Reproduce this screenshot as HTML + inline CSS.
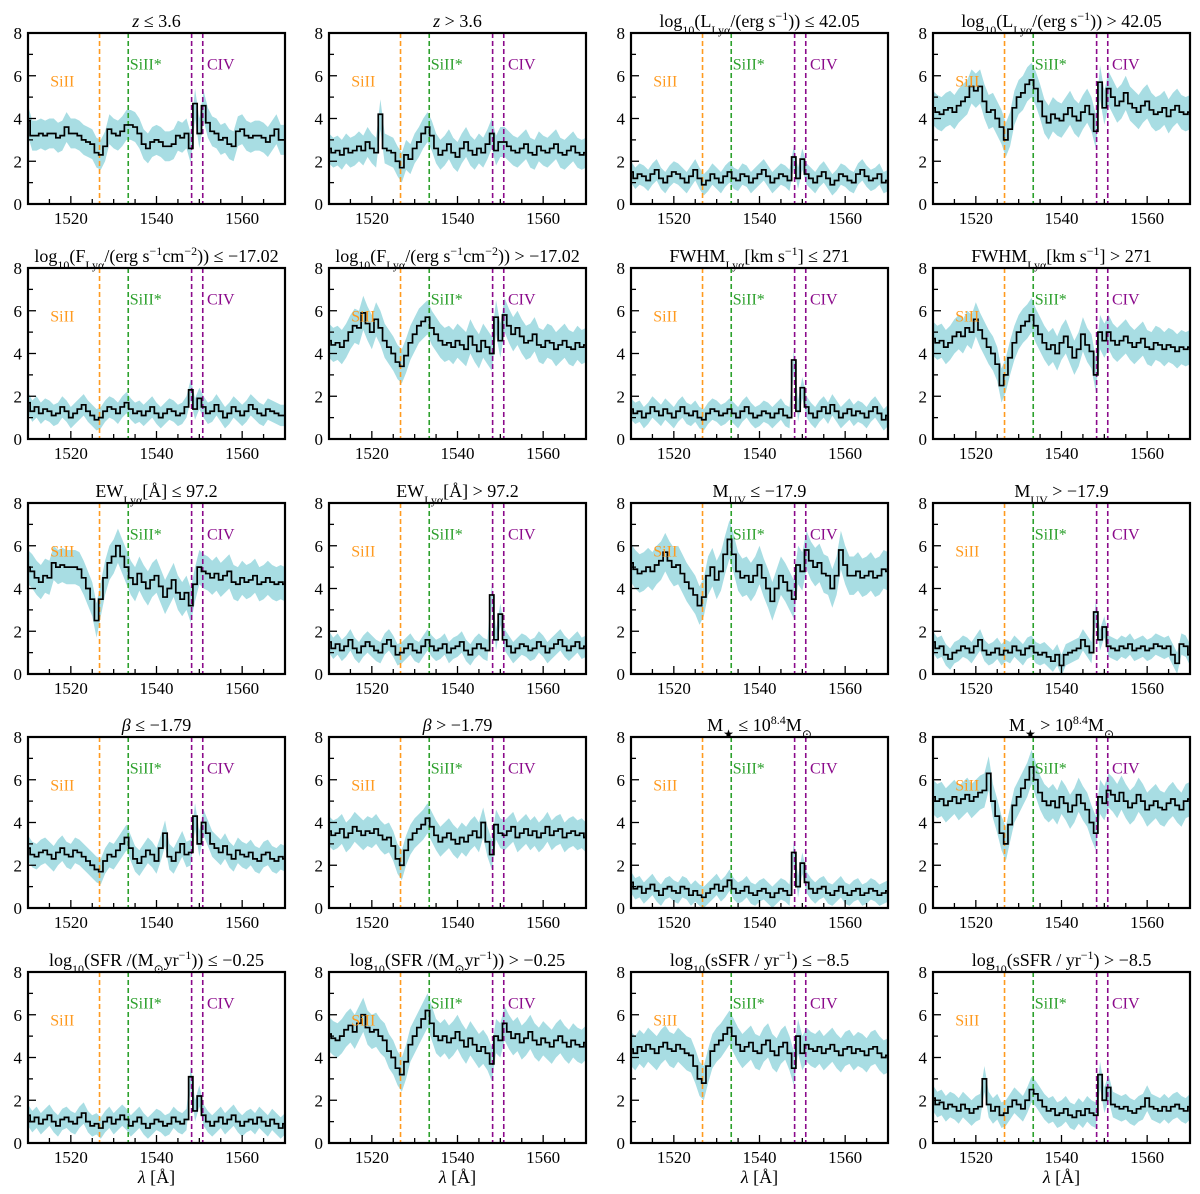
<!DOCTYPE html>
<html><head><meta charset="utf-8">
<style>
html,body{margin:0;padding:0;background:#fff;}
svg{display:block;font-family:"Liberation Serif",serif;}
</style></head>
<body>
<svg id="fig" width="1200" height="1194" viewBox="0 0 1200 1194" xmlns="http://www.w3.org/2000/svg"></svg>
<script>
const xTicks = [1520, 1540, 1560];
const yTicks = [0, 2, 4, 6, 8];
const lineSiII = 1526.7, lineSiIIs = 1533.4, lineCIV1 = 1548.2, lineCIV2 = 1550.8;
const titles = [
 '<tspan font-style="italic">z</tspan> ≤ 3.6',
 '<tspan font-style="italic">z</tspan> &gt; 3.6',
 'log<tspan baseline-shift="sub" font-size="12">10</tspan>(L<tspan baseline-shift="sub" font-size="12">Lyα</tspan>/(erg s<tspan baseline-shift="super" font-size="12">−1</tspan>)) ≤ 42.05',
 'log<tspan baseline-shift="sub" font-size="12">10</tspan>(L<tspan baseline-shift="sub" font-size="12">Lyα</tspan>/(erg s<tspan baseline-shift="super" font-size="12">−1</tspan>)) &gt; 42.05',
 'log<tspan baseline-shift="sub" font-size="12">10</tspan>(F<tspan baseline-shift="sub" font-size="12">Lyα</tspan>/(erg s<tspan baseline-shift="super" font-size="12">−1</tspan>cm<tspan baseline-shift="super" font-size="12">−2</tspan>)) ≤ −17.02',
 'log<tspan baseline-shift="sub" font-size="12">10</tspan>(F<tspan baseline-shift="sub" font-size="12">Lyα</tspan>/(erg s<tspan baseline-shift="super" font-size="12">−1</tspan>cm<tspan baseline-shift="super" font-size="12">−2</tspan>)) &gt; −17.02',
 'FWHM<tspan baseline-shift="sub" font-size="12">Lyα</tspan>[km s<tspan baseline-shift="super" font-size="12">−1</tspan>] ≤ 271',
 'FWHM<tspan baseline-shift="sub" font-size="12">Lyα</tspan>[km s<tspan baseline-shift="super" font-size="12">−1</tspan>] &gt; 271',
 'EW<tspan baseline-shift="sub" font-size="12">Lyα</tspan>[Å] ≤ 97.2',
 'EW<tspan baseline-shift="sub" font-size="12">Lyα</tspan>[Å] &gt; 97.2',
 'M<tspan baseline-shift="sub" font-size="12">UV</tspan> ≤ −17.9',
 'M<tspan baseline-shift="sub" font-size="12">UV</tspan> &gt; −17.9',
 '<tspan font-style="italic">β</tspan> ≤ −1.79',
 '<tspan font-style="italic">β</tspan> &gt; −1.79',
 'M<tspan baseline-shift="sub" font-size="12">★</tspan> ≤ 10<tspan baseline-shift="super" font-size="12">8.4</tspan>M<tspan baseline-shift="sub" font-size="12">⊙</tspan>',
 'M<tspan baseline-shift="sub" font-size="12">★</tspan> &gt; 10<tspan baseline-shift="super" font-size="12">8.4</tspan>M<tspan baseline-shift="sub" font-size="12">⊙</tspan>',
 'log<tspan baseline-shift="sub" font-size="12">10</tspan>(SFR /(M<tspan baseline-shift="sub" font-size="12">⊙</tspan>yr<tspan baseline-shift="super" font-size="12">−1</tspan>)) ≤ −0.25',
 'log<tspan baseline-shift="sub" font-size="12">10</tspan>(SFR /(M<tspan baseline-shift="sub" font-size="12">⊙</tspan>yr<tspan baseline-shift="super" font-size="12">−1</tspan>)) &gt; −0.25',
 'log<tspan baseline-shift="sub" font-size="12">10</tspan>(sSFR / yr<tspan baseline-shift="super" font-size="12">−1</tspan>) ≤ −8.5',
 'log<tspan baseline-shift="sub" font-size="12">10</tspan>(sSFR / yr<tspan baseline-shift="super" font-size="12">−1</tspan>) &gt; −8.5'
];
const errs = [0.7,0.7,0.5,0.8,0.5,0.8,0.5,0.8,0.8,0.5,0.9,0.5,0.6,0.7,0.5,0.8,0.5,0.8,0.8,0.6];
const flux1 = [3.9,3.2,3.2,3.3,3.2,3.3,3.3,3.1,3.2,3.6,3.3,3.3,3.2,3.0,2.9,2.8,2.4,2.3,2.7,3.5,3.3,3.2,3.4,3.7,3.7,3.6,3.3,2.8,2.6,2.9,3.0,2.9,2.7,2.7,2.8,3.2,3.1,3.3,2.6,4.7,3.3,4.6,3.8,3.4,3.3,3.0,3.1,2.8,2.7,3.4,3.5,3.2,3.1,3.2,3.2,3.1,2.9,3.2,3.5,3.0,3.0];
const flux2 = [2.6,2.4,2.5,2.3,2.6,2.4,2.5,2.7,2.5,2.9,2.6,2.4,4.2,2.6,2.5,2.4,2.0,1.7,2.3,2.1,2.6,2.9,3.3,3.6,3.2,2.6,2.3,2.5,2.8,2.4,2.2,2.6,2.9,2.5,2.3,2.6,2.4,2.8,3.3,2.5,2.9,2.9,2.7,2.5,2.4,2.6,2.8,2.4,2.3,2.7,2.5,2.4,2.6,2.8,2.4,2.3,2.5,2.7,2.4,2.3,2.4];
const flux3 = [1.5,1.2,1.4,1.3,1.1,1.4,1.6,1.2,1.0,1.3,1.5,1.4,1.2,1.0,1.3,1.6,1.2,0.9,1.1,1.4,1.2,1.0,1.3,1.5,1.2,1.1,1.4,1.3,1.0,1.2,1.4,1.6,1.3,1.0,1.2,1.4,1.3,1.1,2.2,1.2,2.1,1.4,1.2,1.0,1.3,1.5,1.2,0.9,1.1,1.4,1.3,1.1,1.0,1.4,1.6,1.3,1.1,1.2,1.4,1.0,1.1];
const flux4 = [4.5,4.3,4.2,4.4,4.5,4.3,4.6,4.8,5.0,5.5,5.3,5.5,4.8,4.3,4.4,4.0,3.6,3.0,3.5,4.5,5.0,5.2,5.6,5.8,5.4,4.8,4.1,3.8,4.2,4.0,3.9,4.2,4.5,4.1,3.9,4.3,4.6,4.2,3.4,5.7,4.5,5.4,5.0,4.6,4.8,5.2,4.7,4.5,4.3,4.6,4.8,4.4,4.2,4.3,4.5,4.1,4.4,4.6,4.3,4.2,4.3];
const flux5 = [1.7,1.3,1.5,1.2,1.4,1.3,1.1,1.2,1.5,1.3,1.0,1.2,1.4,1.6,1.3,1.1,0.9,1.0,1.3,1.5,1.4,1.2,1.5,1.7,1.4,1.2,1.3,1.1,1.3,1.5,1.2,1.0,1.2,1.4,1.3,1.1,1.2,1.5,2.3,1.4,1.9,1.5,1.2,1.3,1.6,1.3,1.0,1.2,1.5,1.3,1.1,1.3,1.6,1.4,1.2,1.1,1.4,1.3,1.2,1.1,1.1];
const flux6 = [4.6,4.4,4.5,4.3,4.6,5.0,5.3,5.2,5.9,5.4,5.0,5.6,5.2,4.6,4.3,4.0,3.6,3.4,3.9,4.5,4.9,5.3,5.5,5.7,5.2,4.9,4.6,4.4,4.5,4.3,4.6,4.4,4.2,4.8,4.4,4.1,4.6,4.3,4.0,5.7,4.6,5.8,5.3,4.9,5.2,4.8,4.5,4.6,4.9,4.4,4.3,4.6,4.5,4.2,4.4,4.6,4.3,4.2,4.5,4.3,4.4];
const flux7 = [1.4,1.2,1.3,1.0,1.2,1.5,1.3,1.1,1.4,1.2,1.0,1.3,1.5,1.2,1.1,1.3,1.0,0.9,1.2,1.4,1.3,1.1,1.2,1.4,1.2,1.0,1.3,1.5,1.2,1.0,1.1,1.3,1.2,1.0,1.2,1.4,1.1,1.0,3.7,1.3,2.4,1.5,1.2,1.0,1.3,1.5,1.2,1.6,1.3,1.0,1.2,1.4,1.1,1.3,1.2,1.0,1.3,1.5,1.2,0.9,1.1];
const flux8 = [4.7,4.5,4.6,4.3,4.5,4.8,5.0,4.8,5.2,5.0,5.6,5.1,4.7,4.3,4.0,3.5,2.5,3.0,3.8,4.5,5.0,5.3,5.5,5.8,5.3,4.9,4.5,4.2,4.4,4.0,4.5,4.8,4.3,3.8,4.2,4.9,4.4,4.1,3.0,5.0,4.6,5.0,4.6,4.4,4.6,4.8,4.5,4.3,4.5,4.7,4.3,4.2,4.5,4.4,4.2,4.4,4.3,4.1,4.3,4.2,4.3];
const flux9 = [5.0,4.8,4.5,4.3,4.6,4.5,5.2,5.0,5.1,5.0,5.0,5.0,4.9,4.5,4.0,3.5,2.5,3.5,4.5,5.2,5.5,6.0,5.5,5.0,4.5,4.2,4.7,4.3,4.0,4.4,4.6,4.1,3.6,4.0,4.4,3.8,3.5,3.8,3.2,4.2,5.0,4.8,4.7,4.5,4.7,4.4,4.6,4.8,4.3,4.2,4.5,4.3,4.4,4.6,4.2,4.3,4.5,4.3,4.2,4.3,4.2];
const flux10 = [1.5,1.2,1.4,1.1,1.3,1.6,1.2,1.0,1.3,1.5,1.3,1.1,1.0,1.4,1.6,1.3,0.9,1.0,1.2,1.4,1.1,1.0,1.3,1.6,1.3,1.1,1.2,1.4,1.0,1.2,1.3,1.5,1.1,0.9,1.2,1.4,1.2,1.1,3.7,1.6,2.8,1.6,1.3,1.0,1.2,1.4,1.3,1.1,1.2,1.5,1.3,1.0,1.2,1.4,1.6,1.3,1.1,1.3,1.5,1.2,1.3];
const flux11 = [5.2,4.9,4.7,4.8,5.0,4.8,5.1,5.3,5.7,5.3,5.0,5.1,4.7,4.3,4.0,3.7,3.2,3.6,4.6,5.0,4.4,4.8,5.6,6.3,5.6,4.8,4.5,4.6,4.3,4.6,5.1,4.5,4.0,3.4,4.0,4.6,4.3,3.9,3.5,5.1,4.8,5.8,5.3,5.0,5.2,4.7,4.6,4.0,4.6,5.8,5.1,4.6,4.6,4.8,4.5,4.6,4.8,4.5,4.6,4.9,4.8];
const flux12 = [1.5,1.2,1.3,0.9,0.7,1.0,1.1,1.3,1.2,1.0,1.3,1.6,1.1,0.9,1.0,1.2,0.9,1.1,1.0,1.3,1.1,0.9,1.2,1.3,1.0,0.9,1.0,0.8,0.6,0.9,0.4,0.9,1.0,1.1,1.2,1.6,1.3,1.0,2.9,1.6,2.2,1.3,1.2,1.1,1.3,1.2,1.4,1.1,1.2,1.3,1.1,1.2,1.4,1.3,1.2,1.3,0.9,0.5,1.4,1.3,0.9];
const flux13 = [2.8,2.5,2.4,2.6,2.7,2.5,2.3,2.6,2.8,2.5,2.4,2.7,2.6,2.4,2.2,2.0,1.8,1.7,2.2,2.5,2.4,2.7,3.0,3.3,2.8,2.3,2.1,2.4,2.7,2.5,2.2,2.8,3.5,2.4,2.2,2.6,3.0,2.5,2.6,4.3,3.0,4.0,3.5,3.0,2.8,2.6,2.9,2.5,2.3,2.7,2.5,2.4,2.6,2.3,2.2,2.5,2.6,2.3,2.2,2.4,2.3];
const flux14 = [3.6,3.4,3.5,3.7,3.3,3.5,3.8,3.6,3.4,3.6,3.5,3.7,3.4,3.2,3.3,2.9,2.3,2.0,2.7,3.2,3.5,3.7,3.9,4.2,3.8,3.4,3.1,3.3,3.5,3.2,3.0,3.3,3.1,3.4,3.6,3.3,4.0,3.1,2.5,3.9,3.5,3.4,3.6,3.8,3.3,3.5,3.7,3.4,3.6,3.3,3.5,3.8,3.4,3.6,3.7,3.3,3.5,3.6,3.4,3.5,3.3];
const flux15 = [1.2,0.9,1.0,0.7,0.9,1.1,0.8,0.6,0.9,1.0,0.8,0.7,1.0,0.9,0.6,0.8,0.6,0.5,0.7,0.9,1.1,0.8,1.0,1.3,0.9,0.7,0.8,1.0,0.7,0.6,0.8,0.9,0.7,0.5,0.7,0.9,0.8,0.6,2.6,1.0,2.1,1.2,0.9,0.7,0.9,1.0,0.7,0.6,0.8,1.0,0.7,0.6,0.8,0.9,0.6,0.7,0.9,0.8,0.6,0.7,0.8];
const flux16 = [5.2,5.0,5.1,4.8,5.0,5.2,4.9,5.1,5.3,5.0,5.2,5.4,5.5,6.3,5.0,4.3,3.5,3.0,3.9,4.8,5.2,5.6,6.0,6.6,6.0,5.4,5.0,4.8,5.0,4.7,5.2,4.9,4.5,4.8,5.3,4.9,4.6,4.0,3.5,5.2,4.9,5.5,5.3,5.0,5.4,5.0,4.7,4.9,5.3,5.0,4.6,4.8,5.0,4.7,4.6,4.9,5.1,4.8,4.6,5.0,5.1];
const flux17 = [1.3,1.0,1.2,0.9,1.1,1.3,1.0,0.8,1.1,1.2,1.0,0.9,1.2,1.4,1.0,0.8,0.9,0.7,1.0,1.2,0.9,1.1,1.3,1.1,0.8,1.0,1.2,0.9,0.7,0.9,1.1,1.0,0.8,0.9,1.2,1.0,0.9,1.1,3.1,1.5,2.2,1.3,1.0,0.8,1.0,1.2,0.9,1.1,1.3,1.0,0.8,1.0,1.1,0.9,1.2,1.0,0.8,1.1,0.9,0.7,0.9];
const flux18 = [5.1,4.9,4.8,5.0,5.3,5.5,5.2,5.6,6.0,5.4,5.2,5.3,5.0,4.8,4.3,4.0,3.5,3.2,3.8,4.6,5.0,5.4,5.8,6.2,5.6,5.0,4.8,5.0,4.7,4.9,5.2,4.8,4.5,4.9,4.6,4.3,4.5,4.2,3.7,5.0,4.8,5.6,5.2,4.9,5.1,4.7,4.9,5.2,4.8,4.6,4.9,4.7,4.5,4.8,5.0,4.7,4.5,4.8,4.6,4.5,4.7];
const flux19 = [4.4,4.2,4.5,4.3,4.6,4.4,4.2,4.5,4.7,4.4,4.3,4.6,4.4,4.2,4.1,3.6,3.0,2.8,3.6,4.3,4.6,4.8,5.1,5.4,5.0,4.6,4.3,4.5,4.7,4.3,4.2,4.6,4.8,4.3,4.1,4.5,4.7,4.2,3.5,5.0,4.2,4.6,4.4,4.3,4.5,4.2,4.4,4.6,4.3,4.1,4.4,4.5,4.2,4.4,4.3,4.1,4.4,4.5,4.2,4.0,4.1];
const flux20 = [2.1,1.8,1.9,1.6,1.8,1.7,1.5,1.8,1.6,1.4,1.6,1.7,3.0,1.8,1.5,1.7,1.3,1.4,1.7,2.0,1.8,1.6,2.0,2.5,2.3,2.0,1.7,1.5,1.6,1.3,1.4,1.6,1.3,1.2,1.5,1.3,1.6,1.4,1.3,3.2,2.0,2.6,1.8,1.7,1.6,1.7,1.5,1.4,1.6,1.7,2.1,1.7,1.6,1.5,1.7,1.5,1.7,1.8,1.6,1.5,1.7];
const fluxes = [flux1,flux2,flux3,flux4,flux5,flux6,flux7,flux8,flux9,flux10,flux11,flux12,flux13,flux14,flux15,flux16,flux17,flux18,flux19,flux20];

const NS = 'http://www.w3.org/2000/svg';
const svg = document.getElementById('fig');
const colX = [28, 329, 631, 933], rowY = [33, 268, 503, 737, 972];
const PW = 257, PH = 171, XMIN = 1510, XMAX = 1570, YMIN = 0, YMAX = 8;
function mk(tag, attrs, parent){ const e = document.createElementNS(NS, tag); for (const k in attrs) e.setAttribute(k, attrs[k]); (parent||svg).appendChild(e); return e; }

fluxes.forEach((flux, p) => {
  const c = p % 4, r = Math.floor(p / 4);
  const L = colX[c], T = rowY[r];
  const sx = v => L + (v - XMIN) / (XMAX - XMIN) * PW;
  const sy = v => T + PH - (v - YMIN) / (YMAX - YMIN) * PH;
  const g = mk('g', {});
  
  
  const defs = mk('clipPath', {id: 'clip' + p}, g);
  mk('rect', {x: L, y: T, width: PW, height: PH}, defs);
  const n = flux.length, step = (XMAX - XMIN) / (n - 1);
  const e = errs[p];
  let up = [], lo = [], mid = [];
  for (let i = 0; i < n; i++) {
    const x0 = XMIN + (i - 0.5) * step, x1 = XMIN + (i + 0.5) * step;
    mid.push([sx(x0), sy(flux[i])], [sx(x1), sy(flux[i])]);
    up.push([sx(XMIN + i * step), sy(flux[i] + e)]);
    lo.push([sx(XMIN + i * step), sy(flux[i] - e)]);
  }
  const band = mk('path', {d: 'M' + up.map(q => q.join(',')).join('L') + 'L' + lo.reverse().map(q => q.join(',')).join('L') + 'Z', fill: '#a8dde3', 'clip-path': 'url(#clip' + p + ')'}, g);
  
  
  const lines = [[lineSiII, '#ff9a1f'], [lineSiIIs, '#2ca02c'], [lineCIV1, '#8b0a8b'], [lineCIV2, '#8b0a8b']];
  lines.forEach(([w, col]) => {
    const ln = mk('line', {x1: sx(w), x2: sx(w), y1: T, y2: T + PH, stroke: col, 'stroke-width': 1.6, 'stroke-dasharray': '5,3'}, g);
    
    
  });
  const sp = mk('path', {d: 'M' + mid.map(q => q.join(',')).join('L'), fill: 'none', stroke: '#000', 'stroke-width': 1.7, 'clip-path': 'url(#clip' + p + ')'}, g);
  
  
  const labs = [['SiII', 1518, 5.5, '#ff9a1f'], ['SiII*', 1537.5, 6.3, '#2ca02c'], ['CIV', 1555, 6.3, '#8b0a8b']];
  labs.forEach(([t, x, y, col]) => {
    const tx = mk('text', {x: sx(x), y: sy(y), fill: col, 'font-size': 16, 'text-anchor': 'middle'}, g);
    tx.textContent = t;
    
    
  });
  const fr = mk('rect', {x: L, y: T, width: PW, height: PH, fill: 'none', stroke: '#000', 'stroke-width': 2.2}, g);
  
  
  for (let v = 1510; v <= 1570; v += 5) {
    const maj = xTicks.includes(v);
    mk('line', {x1: sx(v), x2: sx(v), y1: T + PH, y2: T + PH - (maj ? 8 : 5), stroke: '#000', 'stroke-width': 1.3}, g);
  }
  for (let v = 0; v <= 8; v += 1) {
    const maj = yTicks.includes(v);
    mk('line', {x1: L, x2: L + (maj ? 8 : 5), y1: sy(v), y2: sy(v), stroke: '#000', 'stroke-width': 1.3}, g);
  }
  xTicks.forEach(v => {
    const t = mk('text', {x: sx(v), y: T + PH + 20, 'font-size': 17, 'text-anchor': 'middle'}, g);
    t.textContent = v;
    
    
  });
  yTicks.forEach(v => {
    const t = mk('text', {x: L - 6, y: sy(v) + 6, 'font-size': 17, 'text-anchor': 'end'}, g);
    t.textContent = v;
    
    
  });
  const ti = mk('text', {x: L + PW / 2, y: T - 6, 'font-size': 18, 'text-anchor': 'middle'}, g);
  ti.innerHTML = titles[p];
  
  
  if (r === 4) {
    const xl = mk('text', {x: L + PW / 2, y: T + PH + 40, 'font-size': 18, 'text-anchor': 'middle'}, g);
    xl.innerHTML = '<tspan font-style="italic">λ</tspan> [Å]';
    
    
  }
});
</script>
</body></html>
